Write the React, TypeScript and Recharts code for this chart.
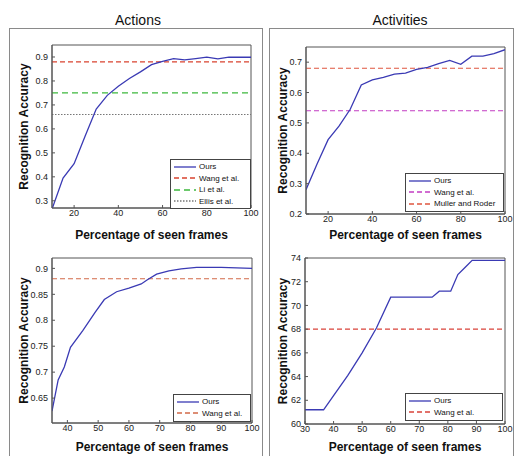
import { LineChart, Line, XAxis, YAxis, ReferenceLine, ReferenceArea, Legend } from "recharts";

const FONT = '"Liberation Sans", Arial, Helvetica, sans-serif';

// Actions, all frames
const actionsX = [10, 15, 20, 25, 30, 35, 40, 45, 50, 55, 60, 65, 70, 75, 80, 85, 90, 95, 100];
const actionsOurs = [0.265, 0.395, 0.455, 0.57, 0.683, 0.74, 0.778, 0.81, 0.838, 0.868, 0.882, 0.893, 0.888, 0.893, 0.899, 0.892, 0.899, 0.899, 0.899];
const actionsWang = 0.88;
const actionsLi = 0.75;
const actionsEllis = 0.66;
const actionsXTicks = [20, 40, 60, 80, 100];
const actionsYTicks = [0.3, 0.4, 0.5, 0.6, 0.7, 0.8, 0.9];

// Activities, all frames
const activitiesX = [10, 15, 20, 25, 30, 35, 40, 45, 50, 55, 60, 65, 70, 75, 80, 85, 90, 95, 100];
const activitiesOurs = [0.28, 0.365, 0.445, 0.49, 0.545, 0.625, 0.642, 0.65, 0.661, 0.664, 0.676, 0.683, 0.695, 0.706, 0.693, 0.72, 0.72, 0.728, 0.741];
const activitiesWang = 0.54;
const activitiesMuller = 0.68;
const activitiesXTicks = [20, 40, 60, 80, 100];
const activitiesYTicks = [0.2, 0.3, 0.4, 0.5, 0.6, 0.7];

// Actions, second dataset
const actions2X = [35, 37, 39, 41, 45, 49, 52, 56, 60, 64, 66, 69, 73, 77, 82, 90, 100];
const actions2Ours = [0.625, 0.685, 0.71, 0.748, 0.78, 0.815, 0.84, 0.855, 0.862, 0.87, 0.878, 0.889, 0.895, 0.899, 0.902, 0.902, 0.9];
const actions2Wang = 0.88;
const actions2XTicks = [40, 50, 60, 70, 80, 90, 100];
const actions2YTicks = [0.65, 0.7, 0.75, 0.8, 0.85, 0.9];

// Activities, second dataset
const activities2X = [30, 36.5, 40, 45, 50, 55, 60, 65, 70, 74.5, 77, 81, 83.5, 86, 88.5, 92, 100];
const activities2Ours = [61.2, 61.2, 62.4, 64.1, 66.0, 68.1, 70.7, 70.7, 70.7, 70.7, 71.2, 71.2, 72.6, 73.2, 73.8, 73.8, 73.8];
const activities2Wang = 68;
const activities2XTicks = [30, 40, 50, 60, 70, 80, 90, 100];
const activities2YTicks = [60, 62, 64, 66, 68, 70, 72, 74];

const OURS_COLOR = "#3a3ab4";

type RefSeries = { name: string; value: number; color: string; dash: string };

type PlotProps = {
  left: number;
  top: number;
  width: number;
  height: number;
  margin: { top: number; right: number; bottom: number; left: number };
  yAxisWidth: number;
  xAxisHeight: number;
  xs: number[];
  ys: number[];
  xDomain: [number, number];
  yDomain: [number, number];
  xTicks: number[];
  yTicks: number[];
  refs: RefSeries[];
  legend: { left: number; top: number; width: number; height: number };
  yLabelOffset: number;
  xLabelOffset: number;
};

function LegendBox({ refs, height }: { refs: RefSeries[]; height: number }) {
  const items = [{ name: "Ours", color: OURS_COLOR, dash: "" }, ...refs];
  return (
    <div
      style={{
        border: "1px solid #444",
        background: "#fff",
        height: height - 2,
        boxSizing: "content-box",
        fontFamily: FONT,
        fontSize: 8,
        color: "#111",
        paddingTop: 1,
      }}
    >
      {items.map((it) => (
        <div key={it.name} style={{ display: "flex", alignItems: "center", height: 11.5 }}>
          <svg width={24} height={6} style={{ marginLeft: 3, marginRight: 1 }}>
            <line x1={0} y1={3} x2={22} y2={3} stroke={it.color} strokeWidth={1.3} strokeDasharray={it.dash} />
          </svg>
          <span>{it.name}</span>
        </div>
      ))}
    </div>
  );
}

function Plot(p: PlotProps) {
  const data = p.xs.map((x, i) => ({ x, ours: p.ys[i] }));
  const tickStyle = { fontSize: 9, fill: "#222", fontFamily: FONT };
  return (
    <div style={{ position: "absolute", left: p.left, top: p.top }}>
      <LineChart width={p.width} height={p.height} data={data} margin={p.margin}>
        <ReferenceArea
          x1={p.xDomain[0]}
          x2={p.xDomain[1]}
          y1={p.yDomain[0]}
          y2={p.yDomain[1]}
          fill="#fff"
          fillOpacity={1}
          stroke="#555"
          strokeWidth={1}
        />
        <XAxis
          dataKey="x"
          type="number"
          domain={p.xDomain}
          ticks={p.xTicks}
          allowDataOverflow
          height={p.xAxisHeight}
          tick={tickStyle}
          tickSize={-3}
          tickMargin={5}
          stroke="#555"
          label={{
            value: "Percentage of seen frames",
            position: "insideBottom",
            offset: p.xLabelOffset,
            style: { fontSize: 12, fontWeight: "bold", fill: "#111", fontFamily: FONT },
          }}
        />
        {/* mirrored ticks on the top edge */}
        <XAxis
          xAxisId="top"
          orientation="top"
          dataKey="x"
          type="number"
          domain={p.xDomain}
          ticks={p.xTicks}
          allowDataOverflow
          height={0}
          tick={false}
          tickSize={-3}
          axisLine={false}
          stroke="#555"
        />
        <YAxis
          type="number"
          domain={p.yDomain}
          ticks={p.yTicks}
          allowDataOverflow
          width={p.yAxisWidth}
          tick={tickStyle}
          tickSize={-3}
          tickMargin={7}
          stroke="#555"
          label={{
            value: "Recognition Accuracy",
            angle: -90,
            position: "insideLeft",
            offset: p.yLabelOffset,
            style: { fontSize: 12, fontWeight: "bold", fill: "#111", fontFamily: FONT, textAnchor: "middle" },
          }}
        />
        {/* mirrored ticks on the right edge */}
        <YAxis
          yAxisId="right"
          orientation="right"
          type="number"
          domain={p.yDomain}
          ticks={p.yTicks}
          allowDataOverflow
          width={0}
          tick={false}
          tickSize={-3}
          axisLine={false}
          stroke="#555"
        />
        {p.refs.map((r) => (
          <ReferenceLine key={r.name} y={r.value} stroke={r.color} strokeWidth={1.2} strokeDasharray={r.dash} />
        ))}
        <Line
          type="linear"
          dataKey="ours"
          stroke={OURS_COLOR}
          strokeWidth={1.3}
          dot={false}
          isAnimationActive={false}
        />
        <Legend
          layout="horizontal"
          verticalAlign="middle"
          align="center"
          wrapperStyle={{ left: p.legend.left, top: p.legend.top, width: p.legend.width, height: p.legend.height }}
          content={() => <LegendBox refs={p.refs} height={p.legend.height} />}
        />
      </LineChart>
    </div>
  );
}

export default function App() {
  return (
    <div
      style={{
        position: "absolute",
        left: 0,
        top: 0,
        width: 516,
        height: 456,
        background: "#fff",
        overflow: "hidden",
        fontFamily: FONT,
      }}
    >
      {/* panel frames */}
      <div style={{ position: "absolute", left: 9, top: 28, width: 252, height: 440, border: "1px solid #8a8a8a" }} />
      <div style={{ position: "absolute", left: 269, top: 28, width: 243, height: 440, border: "1px solid #8a8a8a" }} />

      <div style={{ position: "absolute", left: 88, top: 12, width: 100, textAlign: "center", fontSize: 14, color: "#111" }}>
        Actions
      </div>
      <div style={{ position: "absolute", left: 350, top: 12, width: 100, textAlign: "center", fontSize: 14, color: "#111" }}>
        Activities
      </div>

      <Plot
        left={0}
        top={0}
        width={262}
        height={250}
        margin={{ top: 45, right: 11, bottom: 0, left: 0 }}
        yAxisWidth={52}
        xAxisHeight={42}
        xs={actionsX}
        ys={actionsOurs}
        xDomain={[10, 100]}
        yDomain={[0.27, 0.95]}
        xTicks={actionsXTicks}
        yTicks={actionsYTicks}
        refs={[
          { name: "Wang et al.", value: actionsWang, color: "#d9432f", dash: "5 3" },
          { name: "Li et al.", value: actionsLi, color: "#3cb83c", dash: "6 4" },
          { name: "Ellis et al.", value: actionsEllis, color: "#777", dash: "1.5 1.5" },
        ]}
        legend={{ left: 170, top: 159, width: 81, height: 49 }}
        yLabelOffset={24}
        xLabelOffset={11}
      />
      <Plot
        left={262}
        top={0}
        width={254}
        height={250}
        margin={{ top: 47, right: 11, bottom: 0, left: 0 }}
        yAxisWidth={44}
        xAxisHeight={36}
        xs={activitiesX}
        ys={activitiesOurs}
        xDomain={[10, 100]}
        yDomain={[0.2, 0.75]}
        xTicks={activitiesXTicks}
        yTicks={activitiesYTicks}
        refs={[
          { name: "Wang et al.", value: activitiesWang, color: "#c23cc2", dash: "5 3" },
          { name: "Muller and Roder", value: activitiesMuller, color: "#e0553f", dash: "5 3" },
        ]}
        legend={{ left: 143, top: 173, width: 99, height: 38 }}
        yLabelOffset={21}
        xLabelOffset={11}
      />
      <Plot
        left={0}
        top={240}
        width={262}
        height={216}
        margin={{ top: 18, right: 10, bottom: 0, left: 0 }}
        yAxisWidth={52}
        xAxisHeight={33}
        xs={actions2X}
        ys={actions2Ours}
        xDomain={[35, 100]}
        yDomain={[0.602, 0.92]}
        xTicks={actions2XTicks}
        yTicks={actions2YTicks}
        refs={[{ name: "Wang et al.", value: actions2Wang, color: "#d26a48", dash: "5 3" }]}
        legend={{ left: 173, top: 154, width: 78, height: 27 }}
        yLabelOffset={24}
        xLabelOffset={5}
      />
      <Plot
        left={262}
        top={240}
        width={254}
        height={216}
        margin={{ top: 18, right: 11, bottom: 0, left: 0 }}
        yAxisWidth={43}
        xAxisHeight={32}
        xs={activities2X}
        ys={activities2Ours}
        xDomain={[30, 100]}
        yDomain={[60, 74]}
        xTicks={activities2XTicks}
        yTicks={activities2YTicks}
        refs={[{ name: "Wang et al.", value: activities2Wang, color: "#d9433a", dash: "5 3" }]}
        legend={{ left: 143, top: 153, width: 98, height: 27 }}
        yLabelOffset={21}
        xLabelOffset={5}
      />
    </div>
  );
}
